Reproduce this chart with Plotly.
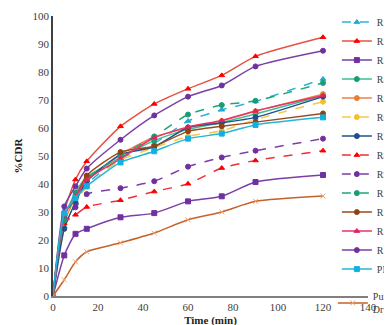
"""Cumulative drug release (%CDR) profiles vs time."""

import plotly.graph_objects as go

TIME = [0, 5, 10, 15, 30, 45, 60, 75, 90, 120]

R1 = [0, 25, 33, 40, 49, 54.5, 62.5, 66.5, 69.5, 77.5]
R2 = [0, 30, 41.6, 48.1, 60.6, 68.6, 74.0, 78.8, 85.6, 92.4]
R3 = [0, 14.5, 22.2, 24.0, 28.1, 29.6, 33.8, 35.6, 40.7, 43.2]
R4 = [0, 28, 37, 42.5, 49.5, 55.5, 59.5, 62, 65, 71.5]
R5 = [0, 26, 35, 41, 50.5, 56.8, 60, 62.5, 66, 72.1]
R6 = [0, 24, 33, 39, 48.5, 53, 57, 59, 63, 69.4]
R7 = [0, 24, 33.5, 41, 50.5, 53.3, 60.2, 61.8, 63.8, 71.2]
R8 = [0, 26, 29, 31.8, 34.2, 37.3, 40.1, 45.7, 48.4, 51.9]
R9 = [0, 27, 31.7, 36.4, 38.5, 41.0, 46.2, 49.5, 51.9, 56.2]
R10 = [0, 27, 36, 42, 50, 57, 64.8, 68.2, 69.7, 76.1]
R11 = [0, 29, 35, 43, 51.4, 53.5, 58.8, 60.6, 62.1, 65.2]
R12 = [0, 29, 35.5, 41.5, 49, 56.5, 60.4, 62.7, 66.1, 71.6]
R13 = [0, 32, 39.2, 45.5, 55.8, 64.5, 71.2, 75.2, 82.0, 87.6]
PM = [0, 29.5, 35, 39.2, 47.7, 51.7, 56.2, 58, 61.1, 63.8]
PURE = [0, 5.8, 12.2, 15.8, 19, 22.5, 27.2, 30, 33.8, 35.7]

# name, values, line colour, marker colour, symbol, dash
SERIES = [
    ("R1", R1, "#2fb3d3", "#1fa9d6", "triangle-up", "dash"),
    ("R2", R2, "#e8503f", "#ff0000", "triangle-up", "solid"),
    ("R3", R3, "#7b3fa8", "#7030a0", "square", "solid"),
    ("R4", R4, "#3cc08e", "#1a9c74", "circle", "solid"),
    ("R5", R5, "#ee8048", "#ed7d31", "circle", "solid"),
    ("R6", R6, "#f7c74a", "#f5be2a", "circle", "dash"),
    ("R7", R7, "#21508f", "#1f4e8f", "circle", "solid"),
    ("R8", R8, "#ee2f3a", "#ff0000", "triangle-up", "dash"),
    ("R9", R9, "#7b3fa8", "#7030a0", "circle", "dash"),
    ("R10", R10, "#1fa57a", "#1a9c74", "circle", "dash"),
    ("R11", R11, "#9a4a1e", "#8e4314", "circle", "solid"),
    ("R12", R12, "#e8336b", "#e0245e", "triangle-up", "solid"),
    ("R13", R13, "#7b3fa8", "#7030a0", "circle", "solid"),
    ("PM", PM, "#22b7d8", "#12b0e0", "square", "solid"),
    ("Pure<br>Drug", PURE, "#c4622a", "#f0a070", "x-thin", "solid"),
]

FONT = "Liberation Serif, Times New Roman, serif"

fig = go.Figure()
for name, vals, lc, mc, sym, dash in SERIES:
    fig.add_trace(go.Scatter(
        x=TIME, y=vals, name=name,
        mode="lines+markers",
        line={"color": lc, "width": 1.5, "dash": dash, "shape": "spline", "smoothing": 0.6},
        marker={"color": mc, "symbol": sym, "size": 5,
                "line": {"color": mc, "width": 1}},
        # the two-line label gets its own legend box so the stack fits the page
        legend="legend2" if name.startswith("Pure") else "legend",
    ))

legend_common = {
    "xanchor": "right", "yanchor": "top", "x": 1.098, "maxheight": 1,
    "bgcolor": "rgba(255,255,255,0)",
    "font": {"family": FONT, "size": 10, "color": "#404040"},
    "tracegroupgap": 0, "itemwidth": 30,
}

fig.update_layout(
    width=392, height=325,
    margin={"l": 45, "r": 32, "t": 8, "b": 37, "autoexpand": False},
    paper_bgcolor="white", plot_bgcolor="white",
    font={"family": FONT, "size": 11, "color": "#404040"},
    showlegend=True,
    legend={**legend_common, "y": 1.03},
    legend2={**legend_common, "y": 0.045},
    xaxis={
        "range": [0, 140], "dtick": 20, "showgrid": False, "zeroline": False,
        "showline": True, "linecolor": "#808080", "linewidth": 1.5,
        "ticks": "", "tickfont": {"size": 11},
        "title": {"text": "<b>Time (min)</b>", "font": {"size": 11, "color": "#222"},
                  "standoff": 4},
    },
    yaxis={
        "range": [0, 100], "dtick": 10, "showgrid": False, "zeroline": False,
        "showline": True, "linecolor": "#404040", "linewidth": 1.5,
        "ticks": "", "tickfont": {"size": 11},
        "title": {"text": "<b>%CDR</b>", "font": {"size": 11, "color": "#222"},
                  "standoff": 8},
    },
)

fig.write_html("out.html")
